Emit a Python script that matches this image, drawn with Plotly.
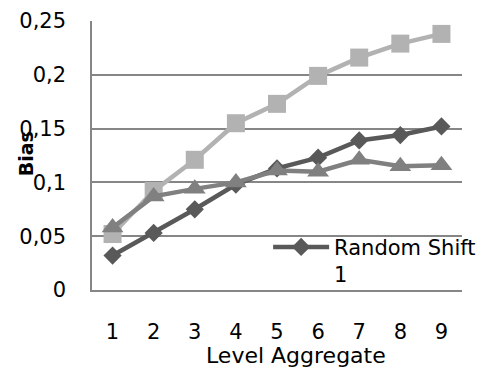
import plotly.graph_objects as go

categories = ["1", "2", "3", "4", "5", "6", "7", "8", "9"]
random_shift_1 = [0.032, 0.053, 0.075, 0.098, 0.113, 0.123, 0.139, 0.144, 0.152]
series_square = [0.052, 0.092, 0.121, 0.155, 0.173, 0.199, 0.216, 0.229, 0.238]
series_triangle = [0.058, 0.087, 0.094, 0.100, 0.111, 0.110, 0.121, 0.115, 0.116]
y_ticks = [0, 0.05, 0.1, 0.15, 0.2, 0.25]

FONT = "DejaVu Sans"

fig = go.Figure()
fig.add_trace(go.Scatter(
    x=categories, y=random_shift_1, name="Random Shift<br>1", mode="lines+markers",
    line=dict(color="#595959", width=4.5),
    marker=dict(symbol="diamond", size=14, color="#595959"),
))
fig.add_trace(go.Scatter(
    x=categories, y=series_square, name="Series 2", mode="lines+markers", showlegend=False,
    line=dict(color="#b2b2b2", width=4.5),
    marker=dict(symbol="square", size=18, color="#b2b2b2"),
))
fig.add_trace(go.Scatter(
    x=categories, y=series_triangle, name="Series 3", mode="lines+markers", showlegend=False,
    line=dict(color="#808080", width=4.5),
    marker=dict(symbol="triangle-up", size=19, color="#808080"),
))

fig.update_layout(
    width=483, height=369,
    margin=dict(l=92, r=21, t=21, b=79, autoexpand=False),
    paper_bgcolor="white", plot_bgcolor="white",
    font=dict(family=FONT, size=21, color="black"),
    separators=",.",
    showlegend=True,
    legend=dict(x=0.476, y=0.235, xanchor="left", yanchor="top", valign="top",
                bgcolor="rgba(0,0,0,0)", font=dict(size=21), itemwidth=56),
    xaxis=dict(type="category", range=[-0.5, 8.5], showgrid=False,
               showline=True, linecolor="#868686", linewidth=1.5,
               ticks="", ticklabelstandoff=22, tickfont=dict(size=21)),
    yaxis=dict(range=[0, 0.25], tickvals=y_ticks, showgrid=True, gridcolor="#868686",
               gridwidth=1.5, showline=True, linecolor="#868686", linewidth=1.5,
               zeroline=False, ticks="", ticklabelstandoff=20, tickfont=dict(size=21)),
    annotations=[
        dict(text="<b>Bias</b>", x=-0.18, y=0.506, xref="paper", yref="paper",
             xanchor="center", yanchor="middle",
             showarrow=False, textangle=-90, font=dict(size=19)),
        dict(text="Level Aggregate", x=0.551, y=-0.293, xref="paper", yref="paper",
             xanchor="center", yanchor="bottom", borderpad=0,
             showarrow=False, font=dict(size=22)),
    ],
)
fig.write_html("out.html")
